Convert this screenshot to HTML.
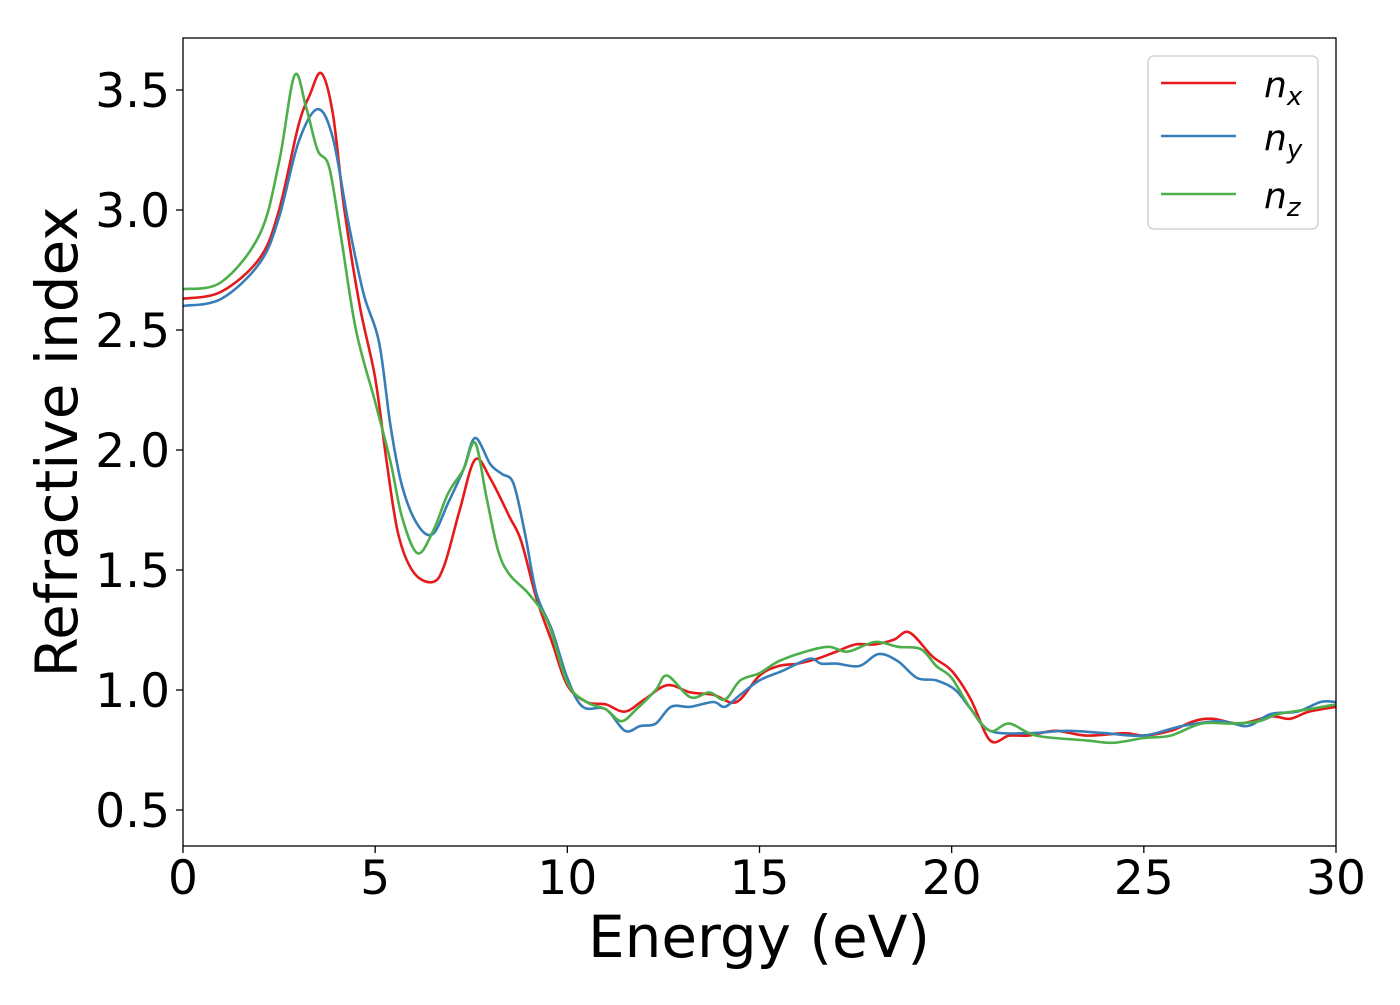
<!DOCTYPE html>
<html><head><meta charset="utf-8"><style>
body{margin:0;background:#fff;}
svg text{font-family:"DejaVu Sans","Liberation Sans",sans-serif;fill:#000;}
</style></head><body>
<svg id="chart" width="1400" height="1000">
<rect x="0" y="0" width="1400" height="1000" fill="#fff"/>
<g id="series"></g>
<rect x="183" y="38" width="1153" height="808" fill="none" stroke="#000" stroke-width="1.3"/>
<g id="xticks"></g>
<g id="yticks"></g>
<text x="759" y="957" font-size="58" text-anchor="middle">Energy (eV)</text>
<text transform="translate(77,442) rotate(-90)" font-size="58" text-anchor="middle">Refractive index</text>
<g>
<rect x="1148" y="56" width="170" height="173" rx="6" fill="#fff" stroke="#ccc" stroke-width="1.3"/>
<g><line x1="1161" y1="83" x2="1236" y2="83" stroke="#e41a1c" stroke-width="2.6"/><text x="1264" y="97" font-size="36" font-style="italic">n<tspan font-size="26" dy="8">x</tspan></text></g>
<g><line x1="1161" y1="136" x2="1236" y2="136" stroke="#377eb8" stroke-width="2.6"/><text x="1264" y="150" font-size="36" font-style="italic">n<tspan font-size="26" dy="8">y</tspan></text></g>
<g><line x1="1161" y1="194" x2="1236" y2="194" stroke="#4daf4a" stroke-width="2.6"/><text x="1264" y="208" font-size="36" font-style="italic">n<tspan font-size="26" dy="8">z</tspan></text></g>
</g>
</svg>
<script>
const xTickLabels=[0,5,10,15,20,25,30];
const yTickLabels=[0.5,1.0,1.5,2.0,2.5,3.0,3.5];
const nxE=[0,1,2,2.5,3,3.3,3.6,3.9,4.2,4.6,5.0,5.3,5.6,6.0,6.5,6.8,7.2,7.6,8.0,8.5,8.8,9.2,9.6,10.0,10.5,11.0,11.5,12.0,12.6,13.2,13.8,14.4,15.0,15.5,16.0,16.5,17.0,17.5,18.0,18.5,18.9,19.5,20.0,20.5,21.0,21.5,22,22.7,23.5,24.5,25,25.7,26.3,26.8,27.5,28.3,28.8,29.3,30];
const nxV=[2.63,2.66,2.8,3.0,3.35,3.48,3.57,3.4,3.0,2.6,2.3,1.95,1.65,1.49,1.45,1.52,1.75,1.96,1.88,1.72,1.62,1.38,1.2,1.02,0.95,0.94,0.91,0.96,1.02,0.99,0.98,0.95,1.06,1.1,1.11,1.13,1.16,1.19,1.19,1.21,1.24,1.14,1.08,0.96,0.79,0.81,0.81,0.83,0.81,0.82,0.81,0.83,0.87,0.88,0.86,0.89,0.88,0.91,0.93];
const nyE=[0,1,2,2.5,3.0,3.5,3.9,4.3,4.7,5.1,5.4,5.7,6.1,6.5,6.9,7.3,7.6,8.0,8.3,8.6,8.9,9.2,9.6,10.0,10.4,11.0,11.5,11.9,12.3,12.7,13.2,13.8,14.1,14.5,15.0,15.6,16.3,16.6,17.0,17.6,18.1,18.6,19.1,19.6,20.1,20.5,21,22,23,24,25,26,27,27.7,28.3,29,29.6,30];
const nyV=[2.6,2.63,2.78,2.97,3.28,3.42,3.3,2.95,2.65,2.45,2.1,1.85,1.69,1.65,1.78,1.92,2.05,1.94,1.9,1.86,1.65,1.4,1.25,1.05,0.93,0.92,0.83,0.85,0.86,0.93,0.93,0.95,0.93,0.98,1.04,1.08,1.13,1.11,1.11,1.1,1.15,1.12,1.05,1.04,1.0,0.92,0.83,0.82,0.83,0.82,0.81,0.85,0.87,0.85,0.9,0.91,0.95,0.95];
const nzE=[0,1,2,2.5,2.9,3.2,3.5,3.8,4.1,4.5,5.0,5.4,5.7,6.1,6.5,6.9,7.3,7.6,7.9,8.2,8.5,9.0,9.5,10.0,10.5,11.0,11.4,11.8,12.3,12.6,13.2,13.7,14.1,14.5,15.0,15.5,16.2,16.8,17.3,18.0,18.6,19.2,19.6,20.0,20.5,21.0,21.5,22.2,23.5,24.2,25,25.7,26.5,27.3,28,28.5,29.3,30];
const nzV=[2.67,2.7,2.9,3.2,3.56,3.43,3.25,3.18,2.9,2.5,2.2,1.95,1.72,1.57,1.66,1.82,1.92,2.03,1.8,1.58,1.48,1.4,1.28,1.03,0.95,0.92,0.87,0.92,1.0,1.06,0.97,0.99,0.96,1.04,1.07,1.12,1.16,1.18,1.16,1.2,1.18,1.17,1.1,1.05,0.92,0.83,0.86,0.81,0.79,0.78,0.8,0.81,0.86,0.86,0.87,0.9,0.92,0.94];
const X=v=>183+v*(1153/30);
const Y=v=>690-(v-1)*240;
const NS='http://www.w3.org/2000/svg';
function pathFor(xs,ys){
  const p=xs.map((x,i)=>[X(x),Y(ys[i])]);
  let d='M'+p[0][0]+','+p[0][1];
  for(let i=0;i<p.length-1;i++){
    const p0=p[i-1]||p[i],p1=p[i],p2=p[i+1],p3=p[i+2]||p2;
    const c1=[p1[0]+(p2[0]-p0[0])/6,p1[1]+(p2[1]-p0[1])/6];
    const c2=[p2[0]-(p3[0]-p1[0])/6,p2[1]-(p3[1]-p1[1])/6];
    d+=' C'+c1+' '+c2+' '+p2;
  }
  return d;
}
const g=document.getElementById('series');
[[nxE,nxV,'#e41a1c','series-nx'],[nyE,nyV,'#377eb8','series-ny'],[nzE,nzV,'#4daf4a','series-nz']].forEach(s=>{
  const el=document.createElementNS(NS,'path');
  el.setAttribute('d',pathFor(s[0],s[1]));
  el.setAttribute('fill','none');el.setAttribute('stroke',s[2]);el.setAttribute('stroke-width','2.6');
  
  
  g.appendChild(el);
});
const xg=document.getElementById('xticks');
xTickLabels.forEach(v=>{
  const l=document.createElementNS(NS,'line');
  l.setAttribute('x1',X(v));l.setAttribute('x2',X(v));l.setAttribute('y1',846);l.setAttribute('y2',853);l.setAttribute('stroke','#000');l.setAttribute('stroke-width','1.3');
  
  
  xg.appendChild(l);
  const t=document.createElementNS(NS,'text');
  t.setAttribute('x',X(v));t.setAttribute('y',894);t.setAttribute('font-size','47');t.setAttribute('text-anchor','middle');
  t.textContent=String(v);
  
  
  xg.appendChild(t);
});
const yg=document.getElementById('yticks');
yTickLabels.forEach(v=>{
  const l=document.createElementNS(NS,'line');
  l.setAttribute('x1',176);l.setAttribute('x2',183);l.setAttribute('y1',Y(v));l.setAttribute('y2',Y(v));l.setAttribute('stroke','#000');l.setAttribute('stroke-width','1.3');
  
  
  yg.appendChild(l);
  const t=document.createElementNS(NS,'text');
  t.setAttribute('x',170);t.setAttribute('y',Y(v)+17);t.setAttribute('font-size','47');t.setAttribute('text-anchor','end');
  t.textContent=v.toFixed(1);
  
  
  yg.appendChild(t);
});
</script>
</body></html>
